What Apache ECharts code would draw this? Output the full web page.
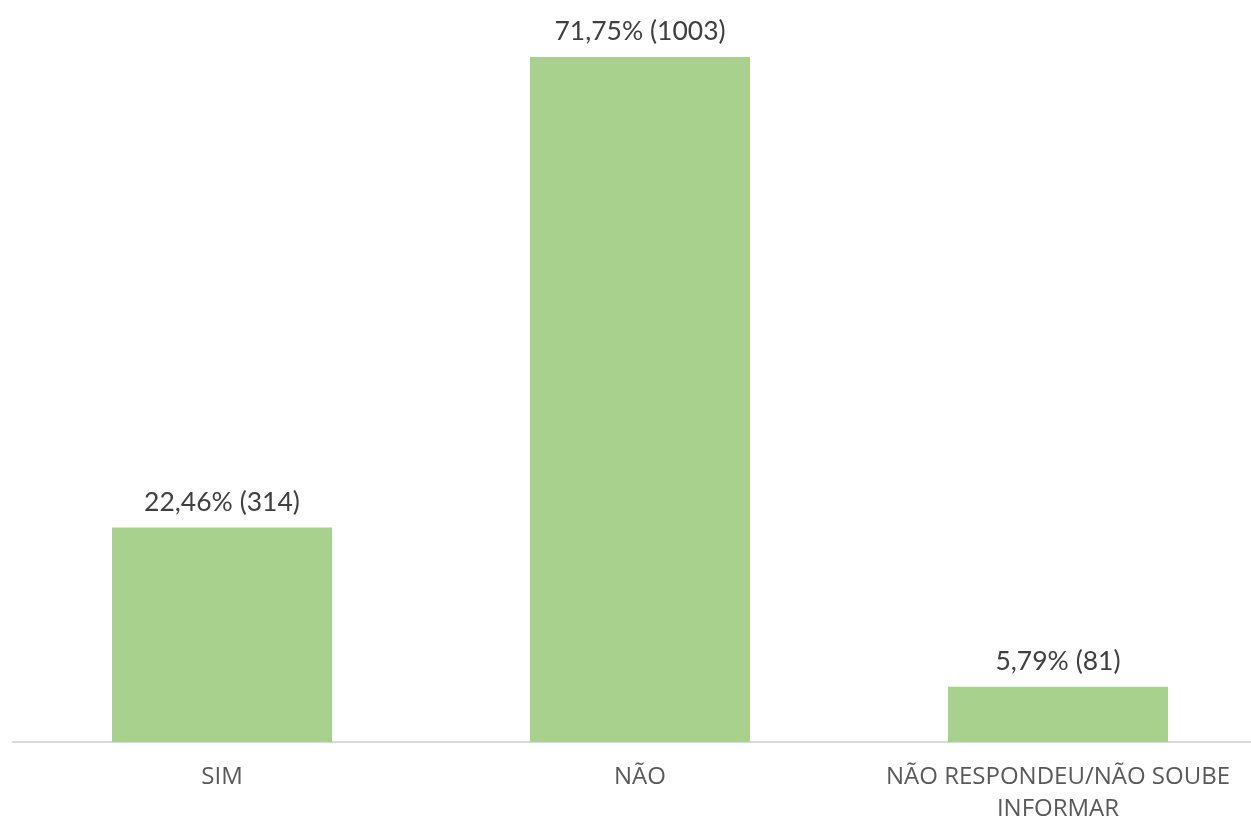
<!DOCTYPE html>
<html>
<head>
<meta charset="utf-8">
<style>
  html, body { margin: 0; padding: 0; background: #ffffff; }
  #chart { width: 1251px; height: 820px; }
</style>
<script src="https://cdn.jsdelivr.net/npm/echarts@6/dist/echarts.min.js"></script>
</head>
<body>
<div id="chart"></div>
<script>
// Respostas: categoria, percentual e número absoluto
const categories = ['SIM', 'NÃO', 'NÃO RESPONDEU/NÃO SOUBE\nINFORMAR'];
const percentages = [22.46, 71.75, 5.79];
const counts = [314, 1003, 81];

const chart = echarts.init(document.getElementById('chart'));

chart.setOption({
  animation: false,
  grid: {
    left: 13, right: -16, top: 57, bottom: 78,
    containLabel: false,
    outerBoundsMode: 'none'
  },
  xAxis: {
    type: 'category',
    data: categories,
    axisLine: { show: true, lineStyle: { color: '#D9D9D9', width: 2 } },
    axisTick: { show: false },
    axisLabel: {
      color: '#595959',
      fontFamily: 'Open Sans',
      fontSize: 24,
      lineHeight: 32,
      margin: 19,
      interval: 0
    }
  },
  yAxis: {
    type: 'value',
    min: 0,
    max: function (v) { return v.max; },
    show: false,
    splitLine: { show: false }
  },
  series: [{
    type: 'bar',
    data: percentages,
    barWidth: 220,
    itemStyle: { color: '#A9D18E' },
    label: {
      show: true,
      position: 'top',
      distance: 12,
      color: '#404040',
      fontFamily: 'Lato',
      fontSize: 26.5,
      formatter: function (p) {
        return p.value.toFixed(2).replace('.', ',') + '% (' + counts[p.dataIndex] + ')';
      }
    }
  }]
});
</script>
</body>
</html>
